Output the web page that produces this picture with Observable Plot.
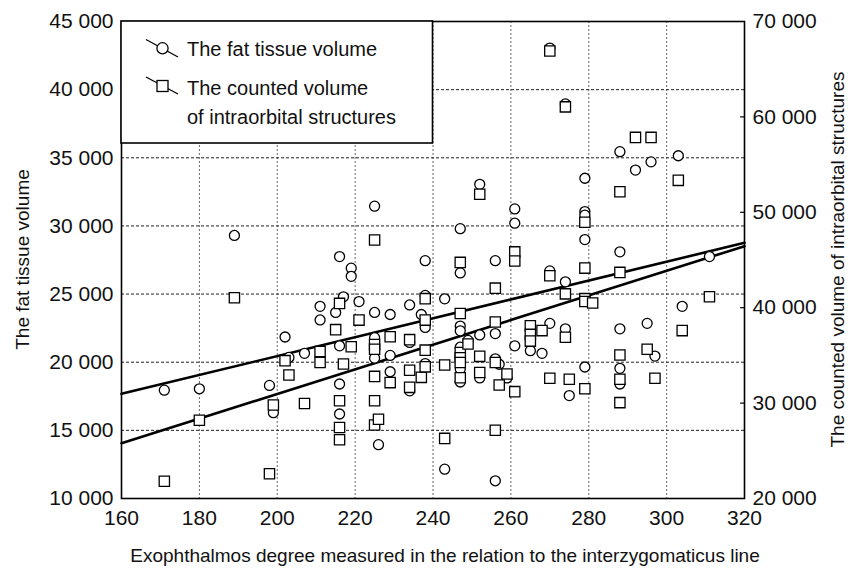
<!DOCTYPE html>
<html><head><meta charset="utf-8">
<script src="https://cdn.jsdelivr.net/npm/d3@7"></script>
<script src="https://cdn.jsdelivr.net/npm/@observablehq/plot@0.6"></script>
<style>
html,body{margin:0;padding:0;background:#fff}
#chart svg{display:block}
</style></head><body><div id="chart"></div>
<script>
// ---- data ----
const fatX = [171,180,189,198,199,202,203,207,211,211,215,216,216,216,216,217,219,219,221,225,225,225,225,226,229,229,229,234,234,234,237,238,238,238,238,243,243,247,247,247,247,247,247,247,249,252,252,252,256,256,256,257,256,259,261,261,261,265,268,270,270,270,274,274,274,275,279,279,279,279,279,288,288,288,288,288,292,295,296,297,303,304,311];
const fatY = [17950,18050,29300,18300,16300,21850,20350,20650,24100,23100,23650,27750,21200,18400,16200,24800,26900,26300,24450,31450,23650,21800,20300,13950,23500,20500,19300,24200,21450,17900,23500,27450,24900,22550,19900,24650,12150,29800,26550,22650,22300,21100,19500,18550,21600,33050,22000,18850,27450,22100,20250,19850,11300,18850,31250,30200,21200,20850,20650,43050,26700,22850,38950,25900,22450,17550,33500,31050,30800,29000,19650,35450,28100,22450,19550,18400,34100,22850,34700,20450,35150,24100,27750];
const cntX = [171,180,189,198,199,202,203,207,211,211,215,216,216,216,216,217,219,221,225,225,225,225,225,225,226,229,229,234,234,234,237,238,238,238,238,243,243,247,247,247,247,247,247,249,252,252,252,256,256,256,256,257,259,261,261,261,265,265,265,268,270,270,270,274,274,274,275,279,279,279,279,279,281,288,288,288,288,288,292,295,296,297,303,304,311];
const cntY = [21800,28200,41050,22600,29800,34450,32950,29950,35400,34250,37700,40450,30250,27450,26150,34100,35900,38700,47100,36150,35650,32800,30250,27700,28300,36950,32150,36650,33450,31650,32700,40950,38700,35550,33800,34000,26300,44750,39400,35300,34750,34250,32650,36200,51900,34900,33200,42050,38500,34250,27150,31900,33050,45850,44900,31200,38100,37200,36500,37600,66900,43350,32600,61050,41450,36900,32500,48950,44150,40950,40650,31500,40500,52150,43700,35050,32500,30050,57850,35650,57850,32600,53350,37600,41150];

// regression lines (end points)
const fatLineX = [160, 320];
const fatLineY = [17680, 28760];
const cntLineX = [160, 320];
const cntLineY = [25800, 46450];

const xTicks = [160,180,200,220,240,260,280,300,320];
const leftTicks = [10000,15000,20000,25000,30000,35000,40000,45000];
const rightTicks = [20000,30000,40000,50000,60000,70000];

const xTitle = "Exophthalmos degree measured in the relation to the interzygomaticus line";
const leftTitle = "The fat tissue volume";
const rightTitle = "The counted volume of intraorbital structures";
const legendLabels = ["The fat tissue volume", "The counted volume", "of intraorbital structures"];

// ---- build ----
const L0 = leftTicks[0], L1 = leftTicks[leftTicks.length-1];
const R0 = rightTicks[0], R1 = rightTicks[rightTicks.length-1];
const toLeft = v => L0 + (v - R0) * (L1 - L0) / (R1 - R0);
const toRight = v => R0 + (v - L0) * (R1 - R0) / (L1 - L0);
const fmt = v => d3.format(",")(Math.round(v)).replace(/,/g, " ");

const fat = fatX.map((x, i) => ({x, y: fatY[i]}));
const cnt = cntX.map((x, i) => ({x, y: cntY[i]}));
const fatLine = fatLineX.map((x, i) => ({x, y: fatLineY[i]}));
const cntLine = cntLineX.map((x, i) => ({x, y: cntLineY[i]}));

const font = "'Liberation Sans', Arial, sans-serif";

const plot = Plot.plot({
  width: 848, height: 570,
  marginLeft: 121, marginRight: 104, marginTop: 21, marginBottom: 72,
  style: {fontFamily: font, fontSize: "21px", color: "#111", background: "white", overflow: "visible"},
  x: {domain: [xTicks[0], xTicks[xTicks.length-1]]},
  y: {domain: [L0, L1]},
  marks: [
    Plot.gridX(xTicks.slice(1, -1), {stroke: "#666", strokeOpacity: 1, strokeDasharray: "2,2", strokeWidth: 1}),
    Plot.gridY(leftTicks.slice(1, -1), {stroke: "#222", strokeOpacity: 1, strokeDasharray: "3,2", strokeWidth: 1}),
    Plot.axisX(xTicks, {tickSize: 0, tickPadding: 12, tickFormat: d => String(d), label: null, fontSize: 21}),
    Plot.axisY(leftTicks, {anchor: "left", tickSize: 0, tickPadding: 8, tickFormat: fmt, label: null, fontSize: 21}),
    Plot.axisY(rightTicks.map(toLeft), {anchor: "right", tickSize: 0, tickPadding: 8, tickFormat: v => fmt(toRight(v)), label: null, fontSize: 21}),
    Plot.ruleY(rightTicks.slice(1, -1).map(toLeft), {x1: 319, x2: 320, stroke: "black", strokeWidth: 1.2}),
    Plot.line(fatLine, {x: "x", y: "y", stroke: "black", strokeWidth: 2.6}),
    Plot.line(cntLine, {x: "x", y: d => toLeft(d.y), stroke: "black", strokeWidth: 2.6}),
    Plot.dot(fat, {x: "x", y: "y", r: 5, fill: "white", stroke: "black", strokeWidth: 1.3}),
    Plot.dot(cnt, {x: "x", y: d => toLeft(d.y), symbol: "square", r: 5.8, fill: "white", stroke: "black", strokeWidth: 1.3}),
    Plot.frame({stroke: "black", strokeWidth: 1.6})
  ]
});

document.getElementById("chart").appendChild(plot);

const sx = plot.scale("x"), sy = plot.scale("y");
const svg = d3.select(plot);

// ---- axis titles ----
const titles = svg.append("g").attr("font-family", font).attr("font-size", 19).attr("fill", "#111").attr("text-anchor", "middle");
titles.append("text").attr("x", 445).attr("y", 562).text(xTitle);
const midY = (sy.apply(L0) + sy.apply(L1)) / 2;
titles.append("text").attr("transform", `translate(29,${midY}) rotate(-90)`).text(leftTitle);
titles.append("text").attr("transform", `translate(844,${midY}) rotate(-90)`).text(rightTitle);

// ---- legend box (top-left, inside the frame) ----
const bx0 = sx.apply(xTicks[0]), bx1 = sx.apply(240), by0 = sy.apply(L1);
const lg = svg.append("g").attr("font-family", font).attr("font-size", 20).attr("fill", "#111").attr("text-anchor", "start");
lg.append("rect").attr("x", bx0).attr("y", by0).attr("width", bx1 - bx0).attr("height", 122)
  .attr("fill", "white").attr("stroke", "black").attr("stroke-width", 1.6);
// entry 1: line through circle
lg.append("line").attr("x1", bx0 + 25).attr("y1", by0 + 18.5).attr("x2", bx0 + 57).attr("y2", by0 + 36)
  .attr("stroke", "black").attr("stroke-width", 1.3);
lg.append("circle").attr("cx", bx0 + 41.5).attr("cy", by0 + 27.3).attr("r", 5.6)
  .attr("fill", "white").attr("stroke", "black").attr("stroke-width", 1.3);
// entry 2: line through square
lg.append("line").attr("x1", bx0 + 25).attr("y1", by0 + 56).attr("x2", bx0 + 57).attr("y2", by0 + 73)
  .attr("stroke", "black").attr("stroke-width", 1.3);
lg.append("rect").attr("x", bx0 + 36).attr("y", by0 + 59.5).attr("width", 11).attr("height", 11)
  .attr("fill", "white").attr("stroke", "black").attr("stroke-width", 1.3);
const tx = bx0 + 66;
lg.append("text").attr("x", tx).attr("y", by0 + 35).text(legendLabels[0]);
lg.append("text").attr("x", tx).attr("y", by0 + 74).text(legendLabels[1]);
lg.append("text").attr("x", tx).attr("y", by0 + 102.5).text(legendLabels[2]);
</script>
</body></html>
